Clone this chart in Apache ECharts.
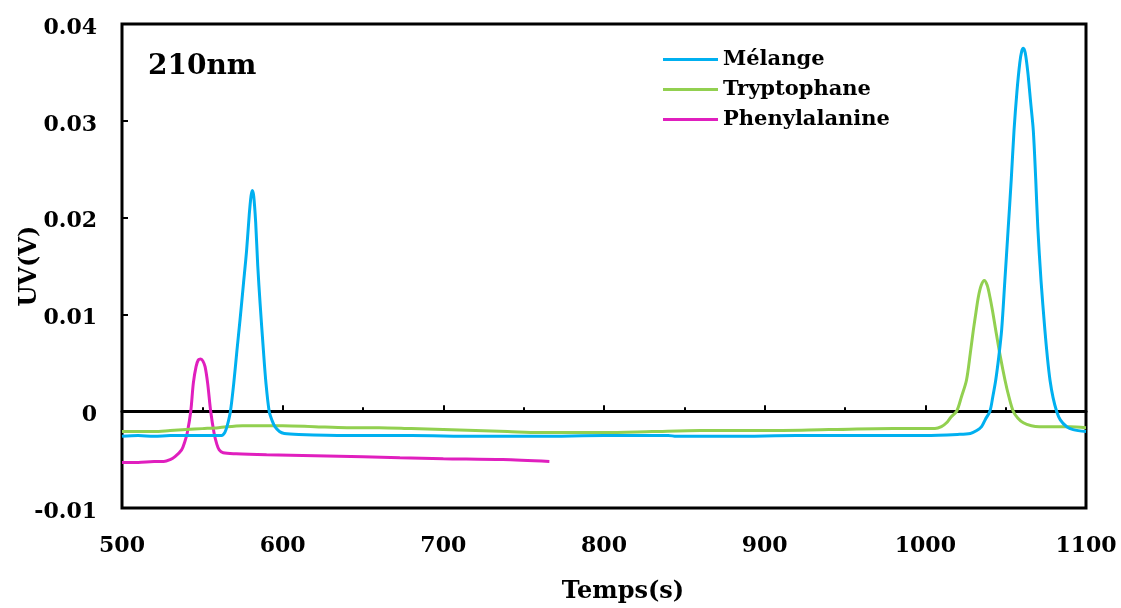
<!DOCTYPE html>
<html>
<head>
<meta charset="utf-8">
<script src="https://cdn.jsdelivr.net/npm/echarts@6/dist/echarts.min.js"></script>
<style>
  html, body { margin: 0; padding: 0; background: #fff; }
  #chart { width: 1121px; height: 608px; }
</style>
</head>
<body>
<div id="chart"></div>
<script>
// Chromatogram at 210 nm: time (s) vs UV signal (V)
const seriesNames = ['Mélange', 'Tryptophane', 'Phenylalanine'];
const seriesColors = ['#00B0F0', '#92D050', '#E01FBE'];

const xTicks = [500, 600, 700, 800, 900, 1000, 1100];
const yTicks = [-0.01, 0, 0.01, 0.02, 0.03, 0.04];

// Mélange: [time, UV]
const melange = [
  [500,-0.0026],[510,-0.0025],[520,-0.0026],[530,-0.0025],[540,-0.0025],[550,-0.0025],
  [558,-0.0025],[562,-0.0025],[564,-0.0022],[565.5,-0.0015],[567.5,0.0000],[569.5,0.0028],
  [571.5,0.0062],[573.5,0.0095],[575.5,0.0130],[577.5,0.0165],[579.2,0.0203],[580.3,0.0222],
  [581.1,0.0228],[582,0.0222],[583.2,0.0195],[584.5,0.0150],[586,0.0110],[588,0.0063],
  [589.6,0.0029],[591.6,0.0000],[593.5,-0.0010],[595.2,-0.0016],[598,-0.0021],[601,-0.0023],
  [610,-0.0024],[640,-0.0025],[680,-0.0025],[720,-0.0026],[760,-0.0026],[800,-0.0025],
  [840,-0.0025],[845,-0.0026],[880,-0.0026],[920,-0.0025],[960,-0.0025],[1000,-0.0025],
  [1020,-0.0024],[1028,-0.0023],[1032,-0.0020],[1035,-0.0016],[1037.5,-0.0008],[1040.2,0.0000],
  [1042,0.0015],[1043.8,0.0032],[1045.7,0.0056],[1047.5,0.0084],[1049.5,0.0135],[1051.5,0.0187],
  [1053.5,0.0240],[1055.2,0.0290],[1057,0.0330],[1058.8,0.0360],[1060,0.0372],[1061,0.0375],
  [1062.2,0.0370],[1063.8,0.0350],[1065.5,0.0320],[1067.2,0.0290],[1068.7,0.0240],[1070,0.0190],
  [1072,0.0135],[1074.4,0.0084],[1076,0.0055],[1077.6,0.0032],[1079.5,0.0014],[1081.7,0.0000],
  [1084,-0.0009],[1088,-0.0016],[1092,-0.0019],[1100,-0.0021]
];

// Tryptophane: [time, UV]
const tryptophane = [
  [500,-0.0021],[510,-0.0021],[520,-0.0021],[530,-0.0020],[540,-0.0019],[550,-0.0018],
  [560,-0.0017],[575,-0.0015],[590,-0.0015],[600,-0.0015],[620,-0.0016],[640,-0.0017],
  [660,-0.0017],[680,-0.0018],[700,-0.0019],[720,-0.0020],[740,-0.0021],[760,-0.0022],
  [785,-0.0022],[800,-0.0022],[830,-0.0021],[860,-0.0020],[900,-0.0020],[940,-0.0019],
  [980,-0.0018],[1000,-0.0018],[1006,-0.0018],[1010,-0.0016],[1013.2,-0.0012],[1016,-0.0006],
  [1019.5,0.0000],[1022.5,0.0015],[1025.6,0.0032],[1028,0.0060],[1029.9,0.0084],[1031.5,0.0102],
  [1033,0.0118],[1034.8,0.0130],[1036.7,0.0135],[1038.5,0.0130],[1040.2,0.0118],[1042,0.0102],
  [1043.8,0.0084],[1046.5,0.0058],[1049.6,0.0032],[1052,0.0015],[1054.7,0.0000],[1057.5,-0.0007],
  [1061,-0.0012],[1066,-0.0015],[1071,-0.0016],[1080,-0.0016],[1090,-0.0016],[1100,-0.0017]
];

// Phenylalanine: [time, UV]
const phenylalanine = [
  [500,-0.0053],[510,-0.0053],[520,-0.0052],[526,-0.0052],[530,-0.0050],[533,-0.0047],
  [537.1,-0.0040],[539,-0.0032],[540.6,-0.00225],[542.8,0.0000],[544.4,0.0029],[546.1,0.0046],
  [547.5,0.0053],[549,0.0054],[550.3,0.0052],[551.7,0.0046],[553.3,0.0029],[555.2,0.0000],
  [557.3,-0.00225],[559,-0.0034],[560.5,-0.0040],[563,-0.0043],[571,-0.0044],[590,-0.0045],
  [620,-0.0046],[650,-0.0047],[673,-0.0048],[700,-0.0049],[737,-0.0050],[766,-0.0052]
];

const FONT = '"DejaVu Serif", "Liberation Serif", serif';
const chart = echarts.init(document.getElementById('chart'), null, { renderer: 'canvas' });

const seriesData = [melange, tryptophane, phenylalanine];

chart.setOption({
  animation: false,
  backgroundColor: '#ffffff',
  grid: {
    left: 122, right: 35, top: 24, bottom: 100,
    outerBoundsMode: 'none', containLabel: false,
    show: true, borderColor: '#000', borderWidth: 3, backgroundColor: 'transparent'
  },
  legend: {
    orient: 'vertical',
    left: 663, top: 49, padding: 0,
    itemWidth: 55, itemHeight: 3, itemGap: 9,
    icon: 'rect',
    data: seriesNames,
    textStyle: { fontFamily: FONT, fontWeight: 'bold', fontSize: 21, color: '#000', lineHeight: 21 }
  },
  graphic: [{
    type: 'text',
    left: 148, top: 53,
    style: { text: '210nm', font: 'bold 28px ' + FONT, fill: '#000' }
  }],
  xAxis: [{
    // labels along the bottom of the frame
    type: 'value', min: xTicks[0], max: xTicks[xTicks.length - 1], interval: 100,
    position: 'bottom',
    axisLine: { show: false, onZero: false },
    axisTick: { show: false },
    splitLine: { show: false },
    axisLabel: {
      margin: 27, fontFamily: FONT, fontWeight: 'bold', fontSize: 22, color: '#000',
      formatter: v => xTicks.includes(v) ? String(v) : ''
    },
    name: 'Temps(s)', nameLocation: 'middle', nameGap: 72,
    nameTextStyle: { fontFamily: FONT, fontWeight: 'bold', fontSize: 24, color: '#000', padding: [0, 0, 0, 38] }
  }, {
    // baseline axis drawn through UV = 0 with inward ticks
    type: 'value', min: xTicks[0], max: xTicks[xTicks.length - 1], interval: 100,
    position: 'bottom',
    axisLine: { show: true, onZero: true, lineStyle: { color: '#000', width: 3 } },
    axisTick: { show: true, inside: true, length: 6, lineStyle: { color: '#000', width: 2 } },
    minorTick: { show: true, splitNumber: 2, length: 4, lineStyle: { color: '#000', width: 2 } },
    axisLabel: { show: false },
    splitLine: { show: false }
  }],
  yAxis: {
    type: 'value', min: yTicks[0], max: yTicks[yTicks.length - 1], interval: 0.01,
    axisLine: { show: false },
    axisTick: { show: true, inside: true, length: 6, lineStyle: { color: '#000', width: 2 } },
    splitLine: { show: false },
    axisLabel: {
      margin: 25, fontFamily: FONT, fontWeight: 'bold', fontSize: 22, color: '#000',
      verticalAlign: 'top', lineHeight: 8,
      formatter: v => {
        const t = yTicks.find(y => Math.abs(y - v) < 1e-9);
        return t === undefined ? '' : (t === 0 ? '0' : String(t));
      }
    },
    name: 'UV(V)', nameLocation: 'middle', nameGap: 80, nameMoveOverlap: false,
    nameTextStyle: { fontFamily: FONT, fontWeight: 'bold', fontSize: 24, color: '#000' }
  },
  series: seriesNames.map((name, i) => ({
    name, type: 'line', xAxisIndex: 0,
    data: seriesData[i],
    showSymbol: false, symbol: 'none',
    smooth: 0.3,
    lineStyle: { color: seriesColors[i], width: 3 },
    itemStyle: { color: seriesColors[i] },
    z: 3 - i
  }))
});
</script>
</body>
</html>
